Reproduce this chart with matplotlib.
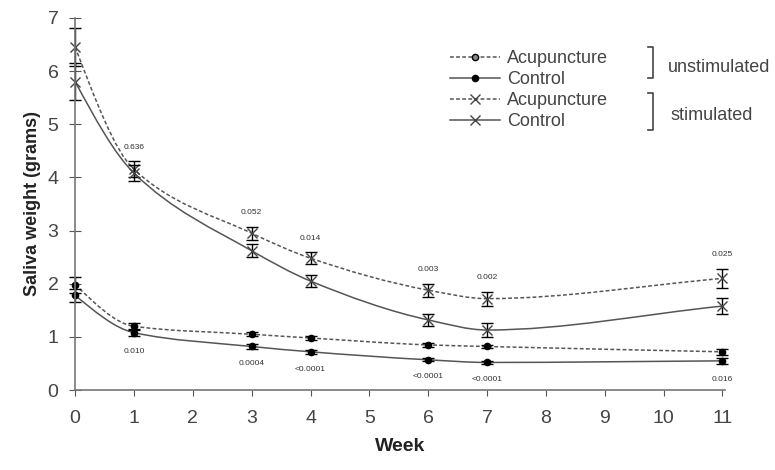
import matplotlib.pyplot as plt
import numpy as np
from matplotlib.path import Path
from matplotlib.patches import PathPatch
from matplotlib.lines import Line2D

plt.rcParams['font.family'] = ['Liberation Sans', 'DejaVu Sans']

weeks = [0, 1, 3, 4, 6, 7, 11]

# stimulated saliva
stim_acu = [6.45, 4.15, 2.95, 2.48, 1.88, 1.72, 2.10]
stim_acu_err = [0.35, 0.15, 0.12, 0.11, 0.12, 0.13, 0.18]
stim_ctl = [5.80, 4.08, 2.62, 2.05, 1.32, 1.13, 1.58]
stim_ctl_err = [0.35, 0.15, 0.12, 0.12, 0.12, 0.13, 0.15]

# unstimulated saliva
unst_acu = [1.98, 1.20, 1.05, 0.98, 0.85, 0.82, 0.72]
unst_acu_err = [0.15, 0.07, 0.04, 0.03, 0.04, 0.03, 0.06]
unst_ctl = [1.78, 1.08, 0.82, 0.72, 0.57, 0.52, 0.55]
unst_ctl_err = [0.13, 0.06, 0.04, 0.04, 0.03, 0.03, 0.06]

p_stim = ['', '0.636', '0.052', '0.014', '0.003', '0.002', '0.025']
p_unst = ['', '0.010', '0.0004', '<0.0001', '<0.0001', '<0.0001', '0.016']

LINE = '#555555'
DASH = (0, (2.5, 1.5))


def start_slope(h0, h1, d0, d1):
    s = ((2 * h0 + h1) * d0 - h0 * d1) / (h0 + h1)
    if s * d0 <= 0:
        return 0.0
    return s


def smooth_path(x, y):
    # monotone (pchip-style) smoothed line as cubic bezier segments
    x = np.asarray(x, float)
    y = np.asarray(y, float)
    h = np.diff(x)
    d = np.diff(y) / h
    m = np.zeros_like(y)
    for k in range(1, len(x) - 1):
        if d[k - 1] * d[k] > 0:
            w1 = 2 * h[k] + h[k - 1]
            w2 = h[k] + 2 * h[k - 1]
            m[k] = (w1 + w2) / (w1 / d[k - 1] + w2 / d[k])
    m[0] = start_slope(h[0], h[1], d[0], d[1])
    m[-1] = d[-1]
    verts = [(x[0], y[0])]
    codes = [Path.MOVETO]
    for i in range(len(x) - 1):
        t = h[i] / 3
        verts += [(x[i] + t, y[i] + m[i] * t),
                  (x[i + 1] - t, y[i + 1] - m[i + 1] * t),
                  (x[i + 1], y[i + 1])]
        codes += [Path.CURVE4] * 3
    return Path(verts, codes)


fig = plt.figure(figsize=(7.75, 4.7), dpi=100)
ax = fig.add_axes([0.097, 0.17, 0.839, 0.792])

series = [
    (unst_acu, unst_acu_err, DASH, 'o', 'Acupuncture'),
    (unst_ctl, unst_ctl_err, '-', 'o', 'Control'),
    (stim_acu, stim_acu_err, DASH, 'x', 'Acupuncture'),
    (stim_ctl, stim_ctl_err, '-', 'x', 'Control'),
]
handles = []
for vals, err, ls, mk, name in series:
    ax.add_patch(PathPatch(smooth_path(weeks, vals), fill=False,
                           edgecolor=LINE, lw=1.1, linestyle=ls))
    eb = ax.errorbar(weeks, vals, yerr=err, fmt='none', ecolor='black',
                     elinewidth=1, capsize=4, capthick=1)
    for art in eb.lines[1] + eb.lines[2]:
        art.set_clip_on(False)
    if mk == 'o':
        ax.plot(weeks, vals, ls='none', marker='o', ms=4.5,
                mfc='black', mec='black', clip_on=False)
        h = Line2D([], [], color=LINE, lw=1.1, ls=ls, marker='o', ms=4.5,
                   mfc='black' if ls == '-' else '#888888', mec='black')
    else:
        ax.plot(weeks, vals, ls='none', marker='x', ms=7, mew=1,
                color='#444444', clip_on=False)
        h = Line2D([], [], color=LINE, lw=1.1, ls=ls, marker='x', ms=7,
                   mew=1, mec='#444444')
    handles.append((h, name))

# p-values
for w, v, e, p in zip(weeks, stim_acu, stim_acu_err, p_stim):
    if p:
        ax.text(w, v + e + 0.2, p, ha='center', va='bottom',
                fontsize=6, color='#333333')
for w, v, e, p in zip(weeks, unst_ctl, unst_ctl_err, p_unst):
    if p:
        ax.text(w, v - e - 0.22, p, ha='center', va='top',
                fontsize=6, color='#333333')

ax.set_xlim(0, 11.05)
ax.set_ylim(0, 7)
ax.set_xticks(range(0, 12))
ax.set_yticks(range(0, 8))
ax.tick_params(axis='x', direction='out', length=4, color='#555555',
               labelsize=14, labelcolor='#444444', pad=10)
ax.tick_params(axis='y', direction='inout', length=8, color='#555555',
               labelsize=14, labelcolor='#444444', pad=8)
for s in ['top', 'right']:
    ax.spines[s].set_visible(False)
for s in ['left', 'bottom']:
    ax.spines[s].set_color('#777777')
    ax.spines[s].set_linewidth(1.2)

ax.set_xlabel('Week', fontsize=14, fontweight='bold', color='#222222',
              labelpad=8)
ax.set_ylabel('Saliva weight (grams)', fontsize=13, fontweight='bold',
              color='#222222', labelpad=5)

leg = ax.legend([h for h, _ in handles], [n for _, n in handles],
                loc='upper left', bbox_to_anchor=(0.566, 0.933), frameon=False,
                fontsize=13, handlelength=2.75, handletextpad=0.4,
                labelspacing=0.22, borderaxespad=0)
for t in leg.get_texts():
    t.set_color('#444444')

# group brackets
for y0, y1, lab, lx, ly in [(0.922, 0.839, 'unstimulated', 0.911, 0.866),
                            (0.798, 0.699, 'stimulated', 0.915, 0.739)]:
    ax.plot([0.881, 0.888, 0.888, 0.881], [y0, y0, y1, y1],
            transform=ax.transAxes, color='#444444', lw=1.2, clip_on=False)
    ax.text(lx, ly, lab, transform=ax.transAxes,
            fontsize=13, color='#444444', va='center', ha='left')

fig.savefig('out.png', dpi=100)
